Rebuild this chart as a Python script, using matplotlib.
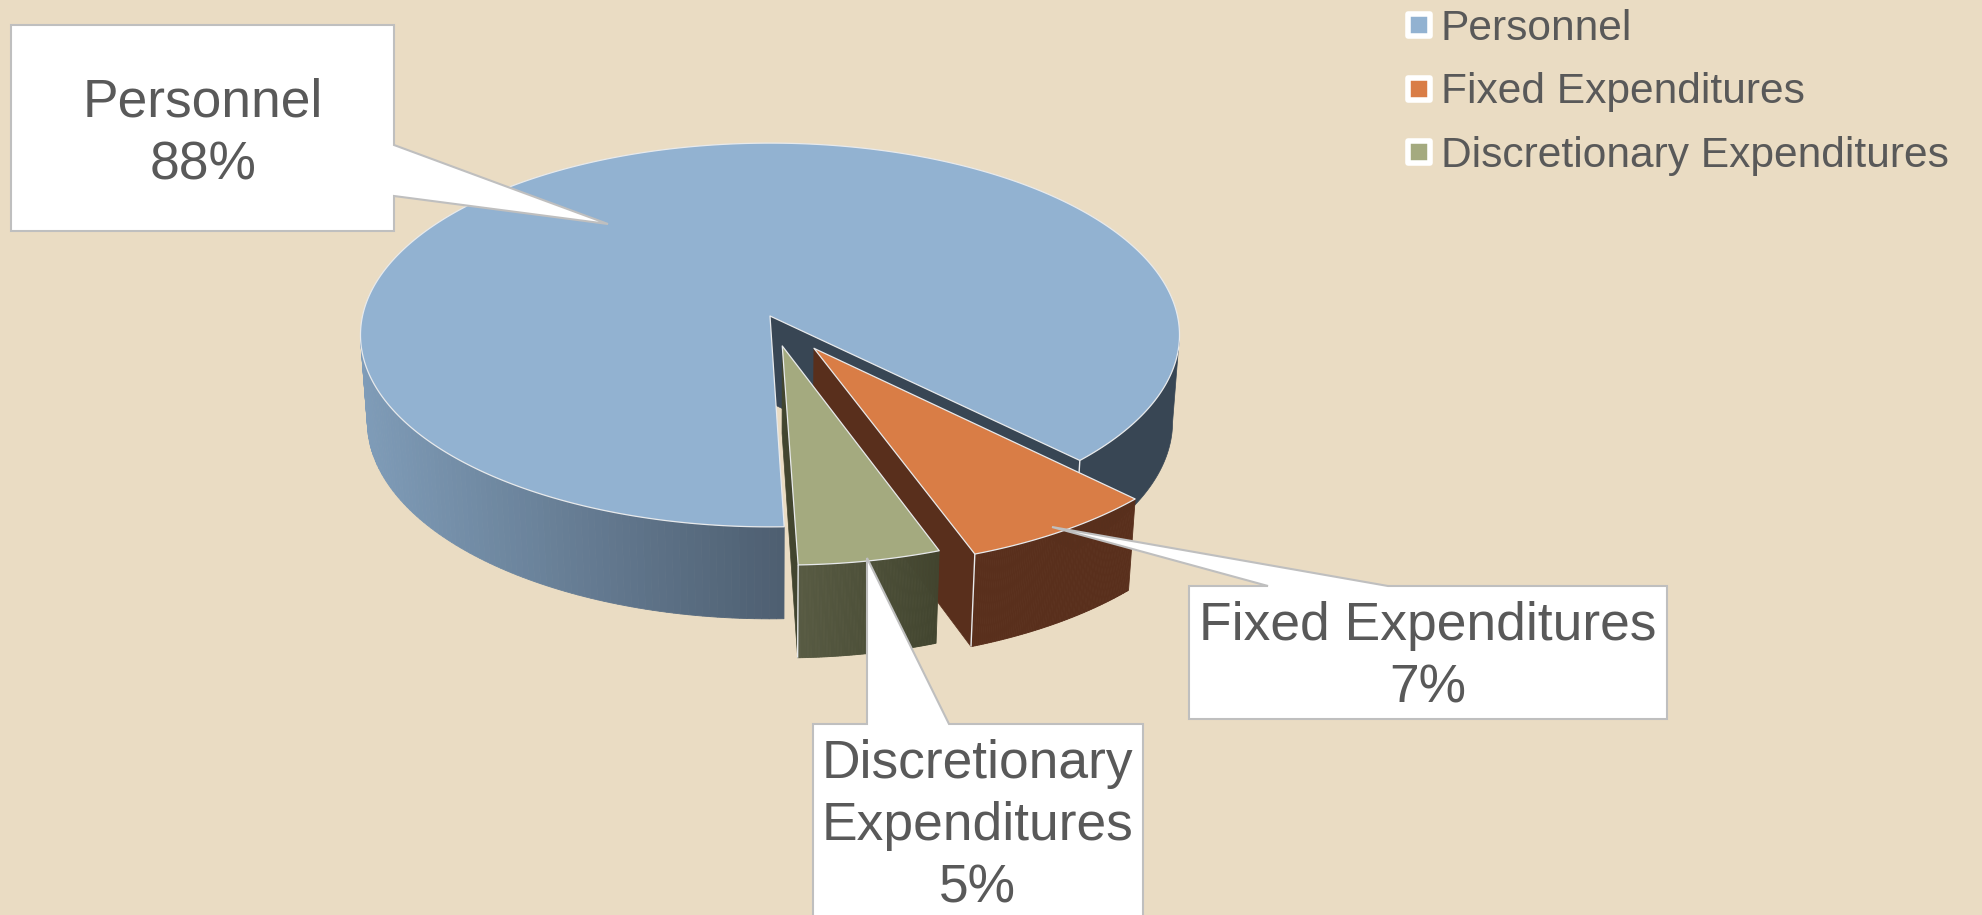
import numpy as np
import matplotlib
matplotlib.use("Agg")
import matplotlib.pyplot as plt
from matplotlib.patches import Polygon

plt.rcParams['font.family'] = ['Liberation Sans', 'DejaVu Sans']

categories = ["Personnel", "Fixed Expenditures", "Discretionary Expenditures"]
values = [88, 7, 5]
labels = ["Personnel\n88%", "Fixed Expenditures\n7%", "Discretionary\nExpenditures\n5%"]

start_angle = 88.2
explode = [0.0, 0.198, 0.158]
radius = [1.0, 1.007, 1.005]

top_colors = ["#92b2d1", "#d97d46", "#a4aa7f"]
side_left = ["#7f9cb8", "#592f1c", "#585b43"]
side_right = ["#4e5f71", "#592f1c", "#42452f"]
cut_colors = ["#384654", "#592f1c", "#42452f"]
back_side = "#384654"
edge = "#e8eaec"
bg = "#eadcc3"
text_color = "#595959"

# perspective of the pie, in pixels of the picture
cx, cy = 770, 316
fx, fy, fz = 407.5, 190, 88
k, m = 0.099, 0.017
silhouette = np.degrees(np.arcsin(k))


def project(u, v, z):
    w = 1 - k * v + m * z
    return cx + fx * u / w, cy + (fy * v + fz * z) / w


def rim(a0, a1, off, z, r=1.0, n=120):
    a = np.radians(np.linspace(a0, a1, n))
    x, y = project(r * np.cos(a) + off[0], r * np.sin(a) + off[1], z)
    return np.column_stack([x, y])


fig = plt.figure(figsize=(19.82, 9.15), dpi=100, facecolor=bg)
ax = fig.add_axes([0, 0, 1, 1])
ax.set_xlim(0, 1982)
ax.set_ylim(915, 0)
ax.axis("off")


def wedge(a0, a1, off, i):
    r = radius[i]
    lo, hi = a0, a1
    if i == 0:
        # dark part on the right of the first gap
        top = rim(silhouette, a0, off, 0)
        bot = rim(silhouette, a0, off, 1)
        ax.add_patch(Polygon(np.vstack([top, bot[::-1]]), fc=back_side, ec=back_side, lw=0.5))
        lo, hi = a1, 180 - silhouette
    # outer wall, shaded from left to right
    n = 90
    aa = np.linspace(lo, hi, n + 1)
    x_all = project(r * np.cos(np.radians(aa)) + off[0], r * np.sin(np.radians(aa)) + off[1], 0)[0]
    c0 = np.array(matplotlib.colors.to_rgb(side_left[i]))
    c1 = np.array(matplotlib.colors.to_rgb(side_right[i]))
    for j in range(n):
        t = (x_all[j] - x_all.min()) / (x_all.max() - x_all.min())
        col = c0 + (c1 - c0) * t
        top = rim(aa[j], aa[j + 1], off, 0, r, 3)
        bot = rim(aa[j], aa[j + 1], off, 1, r, 3)
        ax.add_patch(Polygon(np.vstack([top, bot[::-1]]), fc=col, ec=col, lw=0.6))

    # cut wall
    cut_a = a0 if i == 0 else a1
    p = np.radians(cut_a)
    cut = [project(off[0], off[1], 0),
           project(r * np.cos(p) + off[0], r * np.sin(p) + off[1], 0),
           project(r * np.cos(p) + off[0], r * np.sin(p) + off[1], 1),
           project(off[0], off[1], 1)]
    ax.add_patch(Polygon(cut, fc=cut_colors[i], ec=cut_colors[i], lw=0.5))
    ax.add_patch(Polygon(cut[1:3], closed=False, fill=False, ec=edge, lw=1))

    # top face
    ctr = project(off[0], off[1], 0)
    if i == 0:
        face = np.vstack([[ctr], rim(a1, a0 + 360, off, 0, r, 400)])
    else:
        face = np.vstack([[ctr], rim(a0, a1, off, 0, r)])
    ax.add_patch(Polygon(face, fc=top_colors[i], ec=edge, lw=0.9, joinstyle="round"))


shares = np.array(values) / sum(values) * 360
# personnel wraps round to the gap, the others lie inside that gap
a0_p, a1_p = start_angle + shares[0] - 360, start_angle
a_fix = (a0_p, a0_p + shares[1])
a_dis = (a_fix[1], a_fix[1] + shares[2])
angle_sets = [(a0_p, a1_p), a_fix, a_dis]

for i in range(3):
    a0, a1 = angle_sets[i]
    mid = np.radians((a0 + a1) / 2)
    off = (explode[i] * np.cos(mid), explode[i] * np.sin(mid))
    wedge(a0, a1, off, i)

# data label callouts
callouts = [
    [(11, 25), (394, 25), (394, 145), (608, 224), (394, 196), (394, 231), (11, 231)],
    [(1189, 586), (1268, 586), (1052, 527), (1388, 586), (1667, 586), (1667, 719), (1189, 719)],
    [(813, 724), (867, 724), (867, 558), (949, 724), (1143, 724), (1143, 940), (813, 940)],
]
label_pos = [(203, 134), (1428, 657), (977, 826)]
for poly, lab, pos in zip(callouts, labels, label_pos):
    ax.add_patch(Polygon(poly, fc="white", ec="#bfbfbf", lw=1.5, joinstyle="miter"))
    ax.text(pos[0], pos[1], lab, fontsize=38.4, color=text_color, ha="center", va="center",
            linespacing=1.32)

# legend
legend_y = [25, 88.5, 152]
for name, col, y in zip(categories, top_colors, legend_y):
    ax.scatter([1419], [y], marker="s", s=250, color=col, edgecolors="white", linewidths=4, zorder=5)
    ax.text(1441, y - 1, name, fontsize=30.6, color=text_color, ha="left", va="center_baseline")

fig.savefig("out.png", dpi=100, facecolor=bg)
